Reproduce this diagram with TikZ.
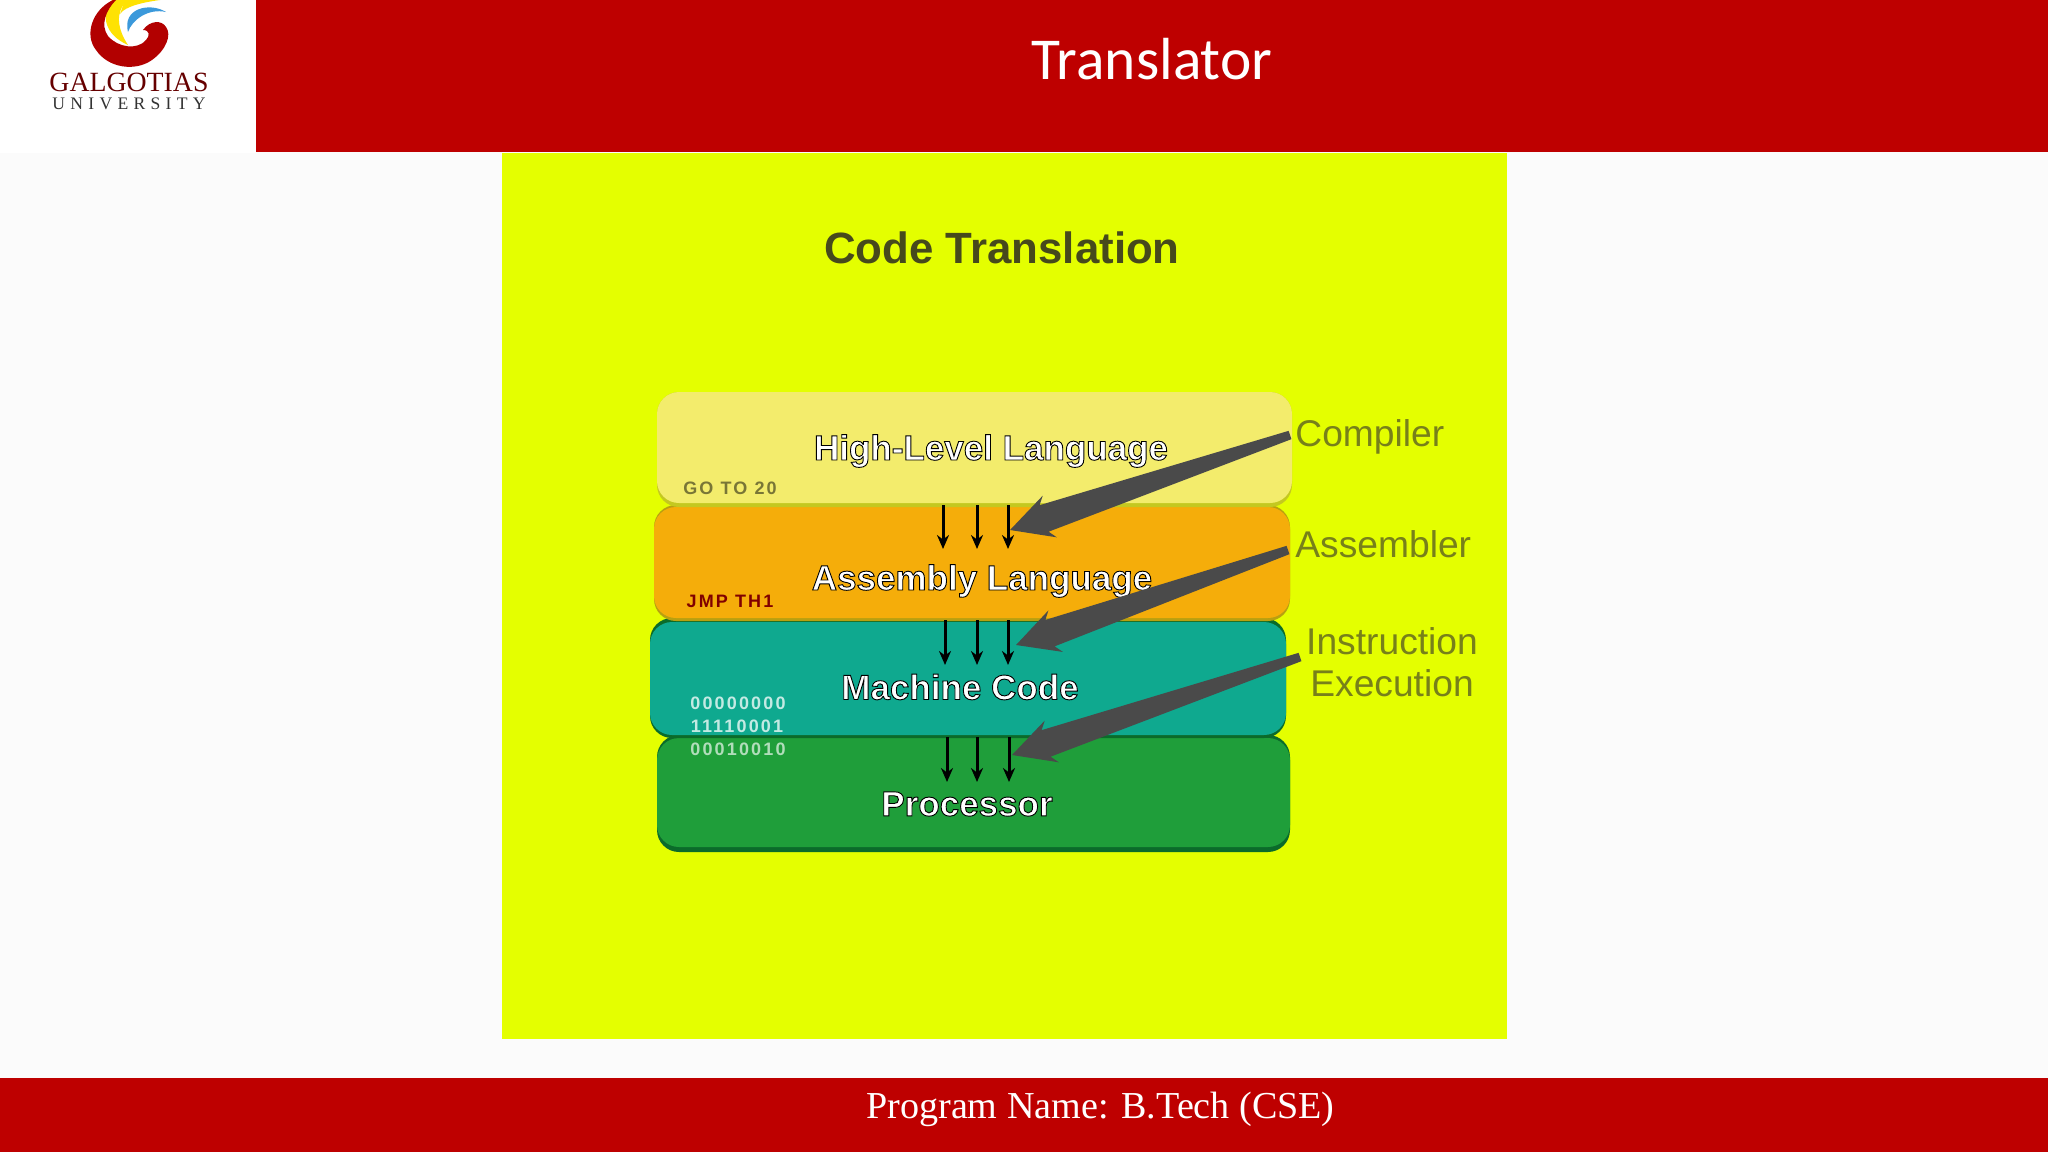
\documentclass[tikz,border=0pt]{standalone}
\usepackage{fontspec}
\usetikzlibrary{calc,arrows.meta}
\setmainfont{Liberation Sans}
\newfontfamily\calibrilike{Carlito}
\newfontfamily\timeslike{Liberation Serif}
\newfontfamily\outlinefont[FakeBold=2.6,BoldFont={Liberation Sans Bold}]{Liberation Sans Bold}
\definecolor{uniRed}{HTML}{BE0000}
\definecolor{pageBg}{HTML}{FBFBFB}
\definecolor{imgYellow}{HTML}{E4FF00}
\definecolor{bandCream}{HTML}{F3EC6C}
\definecolor{bandOrange}{HTML}{F5AD0A}
\definecolor{bandTeal}{HTML}{0FA98F}
\definecolor{bandGreen}{HTML}{1F9E3A}
\definecolor{shadowOlive}{HTML}{C4C820}
\definecolor{shadowOrange}{HTML}{B8A010}
\definecolor{shadowGreen}{HTML}{0B6B2A}
\definecolor{arrowGrey}{HTML}{4A4A4A}
\definecolor{labelOlive}{HTML}{77801A}
\definecolor{titleOlive}{HTML}{46491C}
\newcommand{\outlined}[1]{\special{pdf:bcolor [1] [0]}\outlinefont #1\special{pdf:ecolor}}
\newcommand{\taperarrow}[2]{%
  \fill[arrowGrey] ($(#1)!2.2pt!90:(#2)$) -- ($(#1)!2.2pt!-90:(#2)$)
    -- ($($(#2)!18pt!(#1)$)!7pt!-90:(#2)$) -- ($($(#2)!21pt!(#1)$)!11pt!-90:(#2)$)
    -- (#2) -- ($($(#2)!21pt!(#1)$)!11pt!90:(#2)$) -- ($($(#2)!18pt!(#1)$)!7pt!90:(#2)$) -- cycle;}
\tikzset{
  band/.style={rounded corners=11pt},
  bandtext/.style={inner sep=0pt,font=\fontsize{17.5}{20}\selectfont},
  sidelabel/.style={inner sep=0pt,text=labelOlive,font=\fontsize{18.6}{20}\selectfont,anchor=west},
  tinycode/.style={inner sep=0pt,font=\addfontfeature{LetterSpace=12}\fontsize{9}{9}\selectfont\bfseries},
  flow/.style={draw=black,line width=1.5pt,-{Stealth[length=7pt,width=6pt]}},
}
\begin{document}
\begin{tikzpicture}[x=0.5pt,y=-0.5pt]
\useasboundingbox (0,0) rectangle (2048,1152);
\fill[pageBg] (0,0) rectangle (2048,1152);
% header, logo box, footer
\fill[white] (0,0) rectangle (256,153);
\fill[uniRed] (256,0) rectangle (2048,152);
\fill[uniRed] (0,1078) rectangle (2048,1152);
\node[inner sep=0pt,text=white,font=\calibrilike\fontsize{29.7}{32}\selectfont] (title) at (1152,59) {Translator};
\node[inner sep=0pt,text=white,font=\timeslike\fontsize{19.05}{22}\selectfont] (footer) at (1100.5,1109) {Program Name: B.Tech (CSE)};
% logo
\fill[yellow!85!orange] (112,0) .. controls (100,15) and (105,35) .. (128,45) .. controls (118,30) and (114,12) .. (128,0) -- cycle;
\fill[yellow!85!orange] (125,0) -- (160,0) .. controls (145,2) and (125,6) .. (120,14) -- cycle;
\fill[cyan!70!blue!80] (166,12) .. controls (150,2) and (122,8) .. (128,32) .. controls (132,20) and (148,8) .. cycle;
\fill[red!70!black] (113,0) .. controls (92,10) and (84,35) .. (96,50) .. controls (108,68) and (135,72) .. (152,60)
  .. controls (166,50) and (172,35) .. (166,27) .. controls (162,20) and (150,20) .. (143,30)
  .. controls (150,30) and (150,36) .. (146,40) .. controls (138,50) and (118,48) .. (108,36)
  .. controls (100,25) and (106,10) .. (116,0) -- cycle;
\node[inner sep=0pt,text=red!40!black,font=\timeslike\fontsize{13.9}{15}\selectfont] (logoA) at (129,82) {GALGOTIAS};
\node[inner sep=0pt,text=black!80,font=\timeslike\addfontfeature{LetterSpace=30}\fontsize{8.8}{10}\selectfont] (logoB) at (129,104) {UNIVERSITY};
% picture
\fill[imgYellow] (502,153) rectangle (1507,1039);
\node[inner sep=0pt,text=titleOlive,font=\fontsize{21.9}{24}\selectfont\bfseries] (codeT) at (1002,248) {Code Translation};
% bands
\fill[band,shadowGreen] (657,735) rectangle (1290,852);
\fill[band,bandGreen] (657,738) rectangle (1290,847);
\fill[band,shadowGreen] (650,618) rectangle (1286,738);
\fill[band,bandTeal] (650,622) rectangle (1286,735);
\fill[band,shadowOrange] (654,505) rectangle (1290,621);
\fill[band,bandOrange] (654,507) rectangle (1290,618);
\fill[band,shadowOlive] (657,392) rectangle (1292,507);
\fill[band,bandCream] (657,392) rectangle (1292,503);
% band names
\node[bandtext] (high) at (991,451) {\outlined{High-Level Language}};
\node[bandtext] (asm) at (982,581) {\outlined{Assembly Language}};
\node[bandtext] (mach) at (960,687) {\outlined{Machine Code}};
\node[bandtext] (proc) at (967,804) {\outlined{Processor}};
% tiny code samples
\node[tinycode,text=black!50!bandCream] (c1) at (730,488) {GO TO 20};
\node[tinycode,text=red!50!black] (c2) at (730,601) {JMP TH1};
\node[tinycode,text=white!75!bandTeal] (c3) at (738,703) {00000000};
\node[tinycode,text=white!75!bandTeal] (c4) at (737,726) {11110001};
\node[tinycode,text=white!65!bandGreen] (c5) at (738,749) {00010010};
% flow arrows
\foreach \n/\xa/\ya/\yb in {a/943/505/549,b/977/505/549,c/1008/505/549,
                            d/945/620/665,e/977/620/665,f/1008/620/665,
                            g/947/737/782,h/977/737/782,i/1009/737/782}{
  \coordinate (s\n) at (\xa,\ya);
  \coordinate (t\n) at (\xa,\yb);
  \draw[flow] (s\n) -- (t\n);
}
% side labels
\node[sidelabel] (compiler) at (1295,437) {Compiler};
\node[sidelabel] (assembler) at (1295,544) {Assembler};
\node[sidelabel,anchor=center] (instr) at (1392,641) {Instruction};
\node[sidelabel,anchor=center] (exec) at (1392,683) {Execution};
% big translator arrows
\coordinate (tipA) at (1010,530);
\coordinate (tipB) at (1016,645);
\coordinate (tipC) at (1012,755);
\coordinate (fromA) at (1290,435);
\coordinate (fromB) at (1288,550);
\coordinate (fromC) at (1300,657);
\taperarrow{fromA}{tipA}
\taperarrow{fromB}{tipB}
\taperarrow{fromC}{tipC}
\end{tikzpicture}
\end{document}
